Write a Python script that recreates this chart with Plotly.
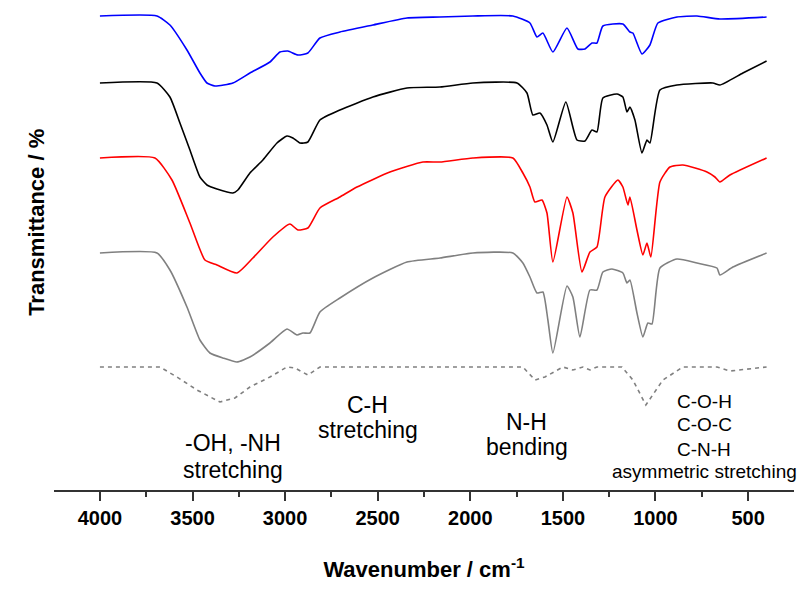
import plotly.graph_objects as go

# ---------------- data (wavenumber in cm^-1, relative transmittance a.u.) ----------------
blue_wn = [4000,3692,3622,3530,3460,3422,3379,3282,3190,3082,3028,2985,2931,2877,2812,2704,2526,2342,2164,1986,
           1770,1678,1640,1608,1554,1478,1419,1381,1343,1316,1284,1176,1138,1122,1073,1030,987,884,776,652,400]
blue_t = [100,100,91,66,43,33,30,33,43,54,64,65,61,63,78,84,91,98,99,100,
          100,93,79,83,64,88,67,67,73,73,90,92,84,83,62,71,93,99,100,97,99]

black_wn = [4000,3692,3622,3568,3514,3460,3422,3368,3282,3255,3190,3120,3044,2990,2958,2920,2877,2812,2704,2526,
            2342,2164,1986,1748,1694,1662,1624,1586,1554,1484,1424,1381,1343,1316,1284,1208,1176,1154,1138,1111,
            1073,1046,1030,976,884,690,652,528,400]
black_t = [100,100,86,60,33,6,-2,-6,-10,-7,10,23,40,47,45,40,41,63,73,86,
           95,96,100,100,90,68,70,58,41,81,43,42,53,51,85,89,86,71,76,63,
           30,43,40,93,98,100,98,110,122]

red_wn = [4000,3703,3611,3514,3433,3368,3260,3174,3066,2974,2931,2877,2812,2704,2612,2434,2256,2164,1986,1770,
          1716,1678,1651,1613,1586,1554,1478,1446,1397,1354,1316,1273,1203,1176,1149,1138,1100,1068,1046,1025,
          976,922,852,722,679,652,598,400]
red_t = [100,100,78,35,-2,-7,-15,0,21,34,28,30,50,61,71,86,96,96,100,100,
         85,71,56,58,45,-4,61,45,-14,6,11,61,78,71,53,61,28,3,15,1,
         76,91,93,86,81,76,83,100]

gray_wn = [4000,3692,3622,3530,3460,3406,3336,3260,3190,3082,2990,2936,2904,2866,2812,2704,2526,2342,2164,1986,
           1770,1716,1678,1640,1608,1581,1554,1478,1446,1408,1354,1316,1284,1235,1176,1154,1138,1100,1068,1041,
           1019,976,884,776,668,652,582,400]
gray_t = [100,100,83,46,13,0,-5,-9,-4,10,24,18,20,20,41,55,75,91,95,100,
          100,90,76,60,61,33,0,67,56,16,63,63,81,84,80,70,73,40,16,30,
          29,85,94,90,85,78,86,100]

dash_wn = [4000,3676,3584,3476,3352,3271,3190,3082,2990,2947,2877,2812,1716,1651,1597,1532,1500,1446,1392,1354,
           1316,1181,1122,1052,960,852,668,598,400]
dash_t = [100,100,90,77,65,69,80,90,100,99,92,100,100,87,90,97,100,97,100,97,
          100,100,87,62,87,100,100,96,100]

# vertical offsets used to stack the spectra
offsets = {"blue": 374, "black": 307, "red": 232, "gray": 137, "dash": 23}

tick_vals = [4000, 3500, 3000, 2500, 2000, 1500, 1000, 500]
tick_text = ["4000", "3500", "3000", "2500", "2000", "1500", "1000", "500"]

FONT = "Liberation Sans, Arial, sans-serif"

fig = go.Figure()

def add(wn, t, off, color, dash="solid", name="", shape="spline"):
    line = dict(color=color, width=1.6, dash=dash, shape=shape)
    if shape == "spline":
        line["smoothing"] = 0.5
    fig.add_trace(go.Scatter(
        x=wn, y=[v + off for v in t], mode="lines", name=name,
        line=line, showlegend=False))

add(blue_wn, blue_t, offsets["blue"], "#0000FF", name="blue")
add(black_wn, black_t, offsets["black"], "#000000", name="black")
add(red_wn, red_t, offsets["red"], "#FF0000", name="red")
add(gray_wn, gray_t, offsets["gray"], "#808080", name="gray")
add(dash_wn, dash_t, offsets["dash"], "#808080", dash="4px,4px", name="dashed", shape="linear")

# band labels: (text, wavenumber, y, size)
labels = [
    ("-OH, -NH", 3282, 47, 23), ("stretching", 3282, 20, 23),
    ("C-H", 2553, 85, 23), ("stretching", 2553, 60, 23),
    ("N-H", 1694, 68, 23), ("bending", 1694, 43, 23),
    ("C-O-H", 738, 89, 19), ("C-O-C", 738, 66, 19), ("C-N-H", 738, 41, 19),
    ("asymmetric stretching", 738, 19, 19),
]
for txt, xv, yv, sz in labels:
    fig.add_annotation(x=xv, y=yv, xref="x", yref="y", text=txt, showarrow=False,
                       font=dict(family=FONT, size=sz, color="black"),
                       xanchor="center", yanchor="middle")

# y-axis title (placed as rotated text left of the plot)
fig.add_annotation(x=-0.0245, y=268, xref="paper", yref="y", text="Transmittance / %",
                   textangle=-90, showarrow=False, xanchor="center", yanchor="middle",
                   font=dict(family=FONT, size=22, color="black", weight="bold"))

fig.update_layout(
    width=803, height=590,
    margin=dict(l=54, r=9, t=0, b=100),
    paper_bgcolor="white", plot_bgcolor="white",
    font=dict(family=FONT, color="black"),
)
fig.update_xaxes(
    range=[4248, 252], showline=True, linecolor="#333333", linewidth=1.5,
    ticks="outside", ticklen=9, tickwidth=1.5, tickcolor="#333333",
    tickvals=tick_vals, ticktext=tick_text,
    tickfont=dict(family=FONT, size=20, color="black", weight="bold"),
    minor=dict(dtick=250, tick0=0, ticks="outside", ticklen=5, tickwidth=1.5, tickcolor="#333333"),
    showgrid=False, zeroline=False, mirror=False, automargin=False,
    title=dict(text="Wavenumber / cm<sup>-1</sup>", standoff=34,
               font=dict(family=FONT, size=22, color="black", weight="bold")),
)
fig.update_yaxes(
    range=[0, 490], showline=False, showticklabels=False, ticks="",
    showgrid=False, zeroline=False, automargin=False,
)

fig.write_html("out.html", config={"displayModeBar": False},
               post_script="document.body.style.margin='0';document.body.style.padding='0';")
